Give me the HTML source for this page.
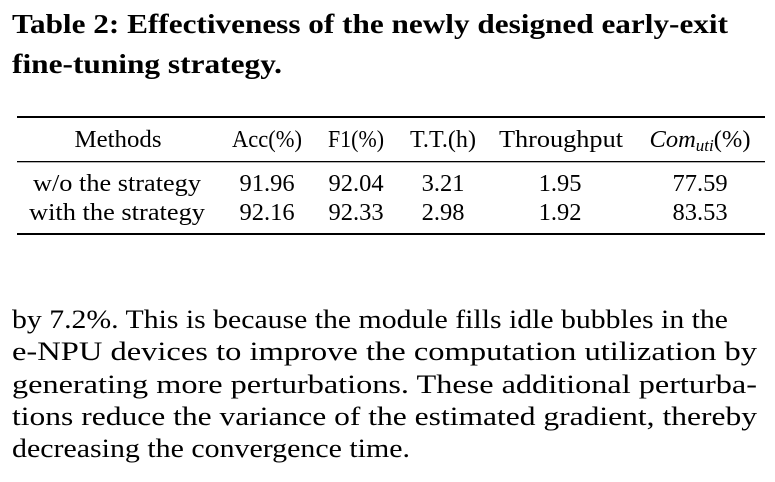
<!DOCTYPE html>
<html><head><meta charset="utf-8"><style>
html,body{margin:0;padding:0;background:#fff;}
svg{display:block;font-family:"Liberation Serif",serif;}
</style></head><body>
<svg width="775" height="482" viewBox="0 0 775 482" xmlns="http://www.w3.org/2000/svg">
<g font-weight="bold" font-size="27" fill="#000">
<text x="12" y="33" textLength="716" lengthAdjust="spacingAndGlyphs">Table 2: Effectiveness of the newly designed early-exit</text>
<text x="12" y="73" textLength="270" lengthAdjust="spacingAndGlyphs">fine-tuning strategy.</text>
</g>
<rect x="17" y="116" width="748" height="2" fill="#000"/>
<rect x="17" y="161" width="748" height="1.3" fill="#000"/>
<rect x="17" y="233" width="748" height="2" fill="#000"/>
<g font-size="24.5" fill="#000" text-anchor="middle">
<text x="118" y="147" textLength="87" lengthAdjust="spacingAndGlyphs">Methods</text>
<text x="267" y="147" textLength="70" lengthAdjust="spacingAndGlyphs">Acc(%)</text>
<text x="356" y="147" textLength="56" lengthAdjust="spacingAndGlyphs">F1(%)</text>
<text x="443" y="147" textLength="66" lengthAdjust="spacingAndGlyphs">T.T.(h)</text>
<text x="561" y="147" textLength="124" lengthAdjust="spacingAndGlyphs">Throughput</text>
<text x="700" y="147"><tspan font-style="italic">Com</tspan><tspan font-style="italic" font-size="17" dy="4">uti</tspan><tspan dy="-4">(%)</tspan></text>
<text x="117" y="191" textLength="168" lengthAdjust="spacingAndGlyphs">w/o the strategy</text>
<text x="267" y="191">91.96</text>
<text x="356" y="191">92.04</text>
<text x="443" y="191">3.21</text>
<text x="560" y="191">1.95</text>
<text x="700" y="191">77.59</text>
<text x="117" y="220" textLength="176" lengthAdjust="spacingAndGlyphs">with the strategy</text>
<text x="267" y="220">92.16</text>
<text x="356" y="220">92.33</text>
<text x="443" y="220">2.98</text>
<text x="560" y="220">1.92</text>
<text x="700" y="220">83.53</text>
</g>
<g font-size="26" fill="#000">
<text x="12" y="328" textLength="716" lengthAdjust="spacingAndGlyphs">by 7.2%. This is because the module fills idle bubbles in the</text>
<text x="12" y="360" textLength="745" lengthAdjust="spacingAndGlyphs">e-NPU devices to improve the computation utilization by</text>
<text x="12" y="393" textLength="745" lengthAdjust="spacingAndGlyphs">generating more perturbations. These additional perturba-</text>
<text x="12" y="425" textLength="745" lengthAdjust="spacingAndGlyphs">tions reduce the variance of the estimated gradient, thereby</text>
<text x="12" y="457" textLength="398" lengthAdjust="spacingAndGlyphs">decreasing the convergence time.</text>
</g>
</svg>
</body></html>
